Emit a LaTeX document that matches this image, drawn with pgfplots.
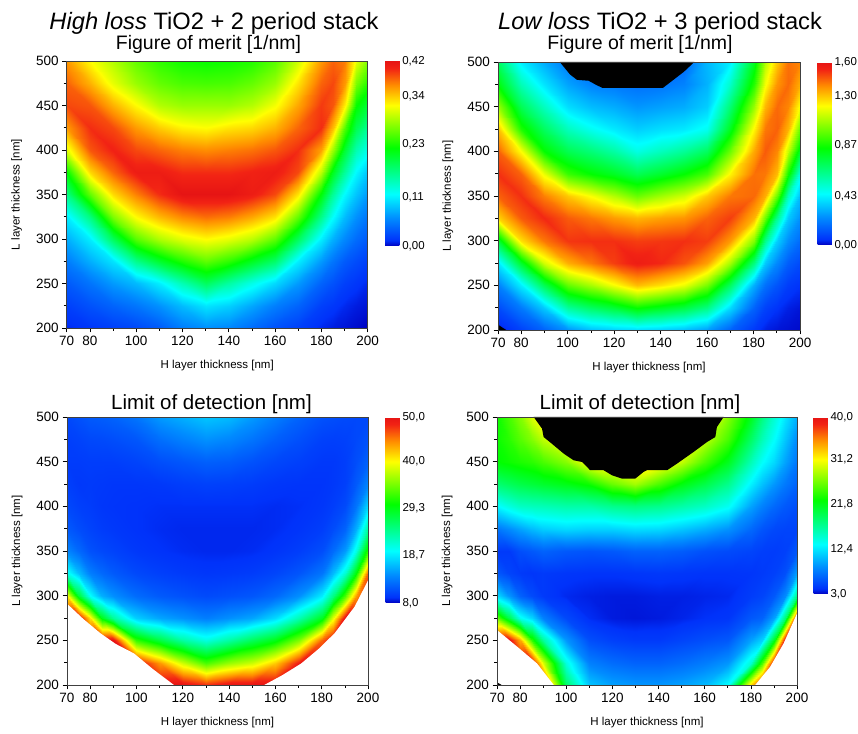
\documentclass[border=0pt]{standalone}
\usepackage{fontspec}
\setmainfont{Liberation Sans}
\usepackage{pgfplots}
\usepackage{pgfplotstable}
\pgfplotsset{compat=1.18}

\pgfplotsset{
  colormap={origin}{rgb255(0mm)=(0,0,190); rgb255(3mm)=(0,50,250); rgb255(15mm)=(0,140,255); rgb255(28mm)=(0,255,255); rgb255(53mm)=(0,255,0); rgb255(76mm)=(255,255,0); rgb255(87mm)=(255,140,0); rgb255(96mm)=(242,35,20); rgb255(100mm)=(230,20,20)},
  hm/.style={
    scale only axis, width=301pt, height=267pt,
    xmin=70, xmax=200, ymin=200, ymax=500,
    xtick={70,80,100,120,140,160,180,200},
    minor xtick={90,110,130,150,170,190},
    ytick={200,250,300,350,400,450,500},
    minor ytick={225,275,325,375,425,475},
    tick align=outside, tick pos=left,
    major tick length=4.5pt, minor tick length=3pt,
    tick style={black, line width=0.7pt},
    axis line style={black!75, line width=0.6pt},
    axis on top,
    ticklabel style={font=\fontsize{13.5}{14}\selectfont},
    /pgf/number format/assume math mode=true,
    xlabel={H layer thickness [nm]}, ylabel={L layer thickness [nm]},
    label style={font=\fontsize{11.5}{12}\selectfont},
    xlabel style={at={(axis description cs:0.5,-0.14)}, anchor=center},
    ylabel style={at={(axis description cs:-0.166,0.5)}, anchor=center},
    colormap name=origin,
    colorbar,
    colorbar style={at={(parent axis.north east)}, anchor=north west, xshift=9pt,
      scale only axis, width=15pt, axis line style={draw=none},
      major tick length=0pt, tick style={draw=none},
      yticklabel style={font=\fontsize{11.5}{12}\selectfont, xshift=-1.5pt},
      /pgf/number format/assume math mode=true},
  },
  hmplot/.style={surf, shader=interp, mesh/cols=#1, mesh/rows=13, point meta=explicit},
}

\begin{document}
% ===== Figure of merit, high loss: left half (H ascending) and right half (H descending)
\pgfplotstableread[row sep=\\]{
H L c\\
70 200 0.01\\ 80 200 0.015\\ 90 200 0.02\\ 100 200 0.025\\ 110 200 0.035\\ 120 200 0.055\\ 130 200 0.065\\
70 225 0.02\\ 80 225 0.03\\ 90 225 0.04\\ 100 225 0.05\\ 110 225 0.065\\ 120 225 0.085\\ 130 225 0.105\\
70 250 0.035\\ 80 250 0.05\\ 90 250 0.07\\ 100 250 0.085\\ 110 250 0.11\\ 120 250 0.149\\ 130 250 0.185\\
70 275 0.055\\ 80 275 0.08\\ 90 275 0.105\\ 100 275 0.166\\ 110 275 0.204\\ 120 275 0.235\\ 130 275 0.259\\
70 300 0.08\\ 80 300 0.11\\ 90 300 0.186\\ 100 300 0.255\\ 110 300 0.288\\ 120 300 0.308\\ 130 300 0.32\\
70 325 0.11\\ 80 325 0.17\\ 90 325 0.269\\ 100 325 0.32\\ 110 325 0.347\\ 120 325 0.366\\ 130 325 0.376\\
70 350 0.17\\ 80 350 0.26\\ 90 350 0.334\\ 100 350 0.37\\ 110 350 0.40\\ 120 350 0.42\\ 130 350 0.42\\
70 375 0.225\\ 80 375 0.335\\ 90 375 0.38\\ 100 375 0.41\\ 110 375 0.41\\ 120 375 0.40\\ 130 375 0.40\\
70 400 0.31\\ 80 400 0.385\\ 90 400 0.405\\ 100 400 0.39\\ 110 400 0.38\\ 120 400 0.37\\ 130 400 0.365\\
70 425 0.36\\ 80 425 0.40\\ 90 425 0.39\\ 100 425 0.36\\ 110 425 0.34\\ 120 425 0.325\\ 130 425 0.32\\
70 450 0.39\\ 80 450 0.385\\ 90 450 0.35\\ 100 450 0.32\\ 110 450 0.29\\ 120 450 0.28\\ 130 450 0.28\\
70 475 0.38\\ 80 475 0.35\\ 90 475 0.31\\ 100 475 0.28\\ 110 475 0.26\\ 120 475 0.25\\ 130 475 0.248\\
70 500 0.36\\ 80 500 0.32\\ 90 500 0.29\\ 100 500 0.26\\ 110 500 0.24\\ 120 500 0.228\\ 130 500 0.225\\
}\fomAL
\pgfplotstableread[row sep=\\]{
H L c\\
200 200 0\\ 195 200 0.003\\ 190 200 0.005\\ 185 200 0.007\\ 180 200 0.01\\ 170 200 0.02\\ 160 200 0.03\\ 150 200 0.045\\ 140 200 0.06\\ 130 200 0.065\\
200 225 0.005\\ 195 225 0.007\\ 190 225 0.01\\ 185 225 0.015\\ 180 225 0.02\\ 170 225 0.04\\ 160 225 0.055\\ 150 225 0.075\\ 140 225 0.095\\ 130 225 0.105\\
200 250 0.01\\ 195 250 0.015\\ 190 250 0.02\\ 185 250 0.03\\ 180 250 0.04\\ 170 250 0.07\\ 160 250 0.10\\ 150 250 0.127\\ 140 250 0.156\\ 130 250 0.185\\
200 275 0.02\\ 195 275 0.027\\ 190 275 0.035\\ 185 275 0.05\\ 180 275 0.07\\ 170 275 0.11\\ 160 275 0.18\\ 150 275 0.21\\ 140 275 0.24\\ 130 275 0.259\\
200 300 0.035\\ 195 300 0.045\\ 190 300 0.06\\ 185 300 0.08\\ 180 300 0.11\\ 170 300 0.185\\ 160 300 0.258\\ 150 300 0.293\\ 140 300 0.31\\ 130 300 0.32\\
200 325 0.05\\ 195 325 0.065\\ 190 325 0.085\\ 185 325 0.118\\ 180 325 0.166\\ 170 325 0.259\\ 160 325 0.33\\ 150 325 0.354\\ 140 325 0.37\\ 130 325 0.376\\
200 350 0.07\\ 195 350 0.09\\ 190 350 0.115\\ 185 350 0.16\\ 180 350 0.22\\ 170 350 0.33\\ 160 350 0.39\\ 150 350 0.41\\ 140 350 0.42\\ 130 350 0.42\\
200 375 0.09\\ 195 375 0.115\\ 190 375 0.158\\ 185 375 0.21\\ 180 375 0.294\\ 170 375 0.39\\ 160 375 0.41\\ 150 375 0.405\\ 140 375 0.40\\ 130 375 0.40\\
200 400 0.125\\ 195 400 0.15\\ 190 400 0.20\\ 185 400 0.28\\ 180 400 0.357\\ 170 400 0.40\\ 160 400 0.385\\ 150 400 0.375\\ 140 400 0.37\\ 130 400 0.365\\
200 425 0.16\\ 195 425 0.19\\ 190 425 0.251\\ 185 425 0.345\\ 180 425 0.40\\ 170 425 0.38\\ 160 425 0.35\\ 150 425 0.335\\ 140 425 0.33\\ 130 425 0.32\\
200 450 0.20\\ 195 450 0.225\\ 190 450 0.325\\ 185 450 0.385\\ 180 450 0.395\\ 170 450 0.355\\ 160 450 0.315\\ 150 450 0.29\\ 140 450 0.28\\ 130 450 0.28\\
200 475 0.235\\ 195 475 0.27\\ 190 475 0.36\\ 185 475 0.39\\ 180 475 0.38\\ 170 475 0.33\\ 160 475 0.28\\ 150 475 0.26\\ 140 475 0.25\\ 130 475 0.248\\
200 500 0.27\\ 195 500 0.31\\ 190 500 0.37\\ 185 500 0.38\\ 180 500 0.36\\ 170 500 0.30\\ 160 500 0.255\\ 150 500 0.235\\ 140 500 0.228\\ 130 500 0.225\\
}\fomAR

% ===== Figure of merit, low loss
\pgfplotstableread[row sep=\\]{
H L c\\
70 200 0.02\\ 80 200 0.08\\ 90 200 0.15\\ 100 200 0.25\\ 110 200 0.33\\ 120 200 0.36\\ 130 200 0.38\\
70 225 0.10\\ 80 225 0.20\\ 90 225 0.35\\ 100 225 0.60\\ 110 225 0.69\\ 120 225 0.756\\ 130 225 0.85\\
70 250 0.22\\ 80 250 0.42\\ 90 250 0.72\\ 100 250 0.99\\ 110 250 1.09\\ 120 250 1.206\\ 130 250 1.32\\
70 275 0.41\\ 80 275 0.78\\ 90 275 1.15\\ 100 275 1.34\\ 110 275 1.42\\ 120 275 1.50\\ 130 275 1.56\\
70 300 0.76\\ 80 300 1.26\\ 90 300 1.42\\ 100 300 1.51\\ 110 300 1.52\\ 120 300 1.52\\ 130 300 1.50\\
70 325 1.28\\ 80 325 1.46\\ 90 325 1.53\\ 100 325 1.46\\ 110 325 1.42\\ 120 325 1.37\\ 130 325 1.33\\
70 350 1.45\\ 80 350 1.52\\ 90 350 1.41\\ 100 350 1.30\\ 110 350 1.21\\ 120 350 1.107\\ 130 350 1.0\\
70 375 1.52\\ 80 375 1.45\\ 90 375 1.19\\ 100 375 0.93\\ 110 375 0.85\\ 120 375 0.795\\ 130 375 0.72\\
70 400 1.45\\ 80 400 1.21\\ 90 400 0.85\\ 100 400 0.72\\ 110 400 0.66\\ 120 400 0.59\\ 130 400 0.49\\
70 425 1.31\\ 80 425 0.89\\ 90 425 0.70\\ 100 425 0.55\\ 110 425 0.47\\ 120 425 0.41\\ 130 425 0.36\\
70 450 1.07\\ 80 450 0.72\\ 90 450 0.55\\ 100 450 0.39\\ 110 450 0.33\\ 120 450 0.30\\ 130 450 0.26\\
70 475 0.83\\ 80 475 0.56\\ 90 475 0.40\\ 100 475 0.28\\ 110 475 0.22\\ 120 475 0.20\\ 130 475 0.18\\
70 500 0.70\\ 80 500 0.42\\ 90 500 0.30\\ 100 500 0.20\\ 110 500 0.15\\ 120 500 0.15\\ 130 500 0.13\\
}\fomBL
\pgfplotstableread[row sep=\\]{
H L c\\
200 200 0.01\\ 195 200 0.015\\ 190 200 0.02\\ 185 200 0.03\\ 180 200 0.06\\ 170 200 0.15\\ 160 200 0.27\\ 150 200 0.33\\ 140 200 0.36\\ 130 200 0.38\\
200 225 0.02\\ 195 225 0.03\\ 190 225 0.05\\ 185 225 0.08\\ 180 225 0.15\\ 170 225 0.38\\ 160 225 0.64\\ 150 225 0.74\\ 140 225 0.795\\ 130 225 0.85\\
200 250 0.05\\ 195 250 0.07\\ 190 250 0.12\\ 185 250 0.18\\ 180 250 0.30\\ 170 250 0.70\\ 160 250 1.02\\ 150 250 1.19\\ 140 250 1.263\\ 130 250 1.32\\
200 275 0.10\\ 195 275 0.14\\ 190 275 0.23\\ 185 275 0.35\\ 180 275 0.65\\ 170 275 1.085\\ 160 275 1.36\\ 150 275 1.47\\ 140 275 1.53\\ 130 275 1.56\\
200 300 0.17\\ 195 300 0.24\\ 190 300 0.36\\ 185 300 0.63\\ 180 300 1.03\\ 170 300 1.37\\ 160 300 1.50\\ 150 300 1.52\\ 140 300 1.51\\ 130 300 1.50\\
200 325 0.25\\ 195 325 0.35\\ 190 325 0.62\\ 185 325 1.0\\ 180 325 1.33\\ 170 325 1.50\\ 160 325 1.45\\ 150 325 1.38\\ 140 325 1.36\\ 130 325 1.33\\
200 350 0.33\\ 195 350 0.55\\ 190 350 0.99\\ 185 350 1.34\\ 180 350 1.44\\ 170 350 1.42\\ 160 350 1.30\\ 150 350 1.15\\ 140 350 1.08\\ 130 350 1.0\\
200 375 0.49\\ 195 375 0.87\\ 190 375 1.32\\ 185 375 1.42\\ 180 375 1.43\\ 170 375 1.23\\ 160 375 0.95\\ 150 375 0.85\\ 140 375 0.78\\ 130 375 0.72\\
200 400 0.79\\ 195 400 1.13\\ 190 400 1.40\\ 185 400 1.46\\ 180 400 1.35\\ 170 400 1.0\\ 160 400 0.70\\ 150 400 0.61\\ 140 400 0.55\\ 130 400 0.49\\
200 425 1.0\\ 195 425 1.33\\ 190 425 1.45\\ 185 425 1.42\\ 180 425 1.23\\ 170 425 0.80\\ 160 425 0.47\\ 150 425 0.41\\ 140 425 0.39\\ 130 425 0.36\\
200 450 1.2\\ 195 450 1.40\\ 190 450 1.44\\ 185 450 1.33\\ 180 450 1.07\\ 170 450 0.67\\ 160 450 0.36\\ 150 450 0.30\\ 140 450 0.28\\ 130 450 0.26\\
200 475 1.34\\ 195 475 1.44\\ 190 475 1.38\\ 185 475 1.2\\ 180 475 0.90\\ 170 475 0.53\\ 160 475 0.31\\ 150 475 0.22\\ 140 475 0.19\\ 130 475 0.18\\
200 500 1.40\\ 195 500 1.43\\ 190 500 1.30\\ 185 500 1.1\\ 180 500 0.80\\ 170 500 0.42\\ 160 500 0.32\\ 150 500 0.16\\ 140 500 0.14\\ 130 500 0.13\\
}\fomBR

% ===== Limit of detection, high loss
\pgfplotstableread[row sep=\\]{
H L c\\
70 200 60\\ 75 200 60\\ 80 200 60\\ 85 200 60\\ 90 200 60\\ 100 200 60\\ 110 200 60\\ 120 200 52\\ 130 200 48\\
70 225 60\\ 75 225 60\\ 80 225 60\\ 85 225 60\\ 90 225 60\\ 100 225 60\\ 110 225 44\\ 120 225 38\\ 130 225 33\\
70 250 60\\ 75 250 60\\ 80 250 60\\ 85 250 60\\ 90 250 50\\ 100 250 32\\ 110 250 27.5\\ 120 250 23.5\\ 130 250 21\\
70 275 60\\ 75 275 60\\ 80 275 41\\ 85 275 29.3\\ 90 275 24\\ 100 275 17.5\\ 110 275 15.5\\ 120 275 14.5\\ 130 275 13.5\\
70 300 40.5\\ 75 300 28\\ 80 300 20\\ 85 300 16\\ 90 300 14.5\\ 100 300 12.5\\ 110 300 11.5\\ 120 300 11\\ 130 300 10.6\\
70 325 20.5\\ 75 325 16.5\\ 80 325 13.5\\ 85 325 12.3\\ 90 325 11.5\\ 100 325 10.5\\ 110 325 10\\ 120 325 9.7\\ 130 325 9.5\\
70 350 14\\ 75 350 12.3\\ 80 350 11\\ 85 350 10.5\\ 90 350 10.2\\ 100 350 9.6\\ 110 350 9.3\\ 120 350 9.1\\ 130 350 9.0\\
70 375 11.5\\ 75 375 10.7\\ 80 375 10.2\\ 85 375 9.8\\ 90 375 9.6\\ 100 375 9.3\\ 110 375 9.1\\ 120 375 9.0\\ 130 375 9.0\\
70 400 10.5\\ 75 400 10\\ 80 400 9.8\\ 85 400 9.5\\ 90 400 9.4\\ 100 400 9.3\\ 110 400 9.2\\ 120 400 9.2\\ 130 400 9.2\\
70 425 10\\ 75 425 9.6\\ 80 425 9.7\\ 85 425 9.6\\ 90 425 9.5\\ 100 425 9.5\\ 110 425 9.6\\ 120 425 9.9\\ 130 425 10.1\\
70 450 9.8\\ 75 450 9.8\\ 80 450 9.9\\ 85 450 9.9\\ 90 450 9.9\\ 100 450 10.2\\ 110 450 10.8\\ 120 450 11.3\\ 130 450 11.8\\
70 475 10\\ 75 475 10.2\\ 80 475 10.5\\ 85 475 10.6\\ 90 475 10.8\\ 100 475 11.3\\ 110 475 12.7\\ 120 475 13.7\\ 130 475 14.6\\
70 500 10.5\\ 75 500 11\\ 80 500 11.5\\ 85 500 11.7\\ 90 500 12\\ 100 500 13\\ 110 500 15\\ 120 500 16\\ 130 500 17\\
}\lodAL
\pgfplotstableread[row sep=\\]{
H L c\\
200 200 60\\ 195 200 60\\ 190 200 60\\ 185 200 60\\ 180 200 60\\ 170 200 60\\ 160 200 60\\ 150 200 55\\ 140 200 50\\ 130 200 48\\
200 225 60\\ 195 225 60\\ 190 225 60\\ 185 225 60\\ 180 225 60\\ 170 225 49\\ 160 225 42\\ 150 225 38\\ 140 225 36\\ 130 225 33\\
200 250 60\\ 195 250 60\\ 190 250 60\\ 185 250 60\\ 180 250 46\\ 170 250 35\\ 160 250 29.3\\ 150 250 26.5\\ 140 250 23.5\\ 130 250 21\\
200 275 60\\ 195 275 60\\ 190 275 50\\ 185 275 39\\ 180 275 29\\ 170 275 23\\ 160 275 18\\ 150 275 15.5\\ 140 275 14.5\\ 130 275 13.5\\
200 300 60\\ 195 300 44\\ 190 300 33\\ 185 300 25\\ 180 300 19\\ 170 300 14.5\\ 160 300 12.3\\ 150 300 11.3\\ 140 300 10.9\\ 130 300 10.6\\
200 325 46\\ 195 325 30\\ 190 325 21.5\\ 185 325 16.5\\ 180 325 13\\ 170 325 11.2\\ 160 325 10.3\\ 150 325 9.8\\ 140 325 9.6\\ 130 325 9.5\\
200 350 32\\ 195 350 21\\ 190 350 15\\ 185 350 12.5\\ 180 350 10.8\\ 170 350 9.9\\ 160 350 9.4\\ 150 350 9.1\\ 140 350 9.0\\ 130 350 9.0\\
200 375 24\\ 195 375 16\\ 190 375 12\\ 185 375 10.7\\ 180 375 9.9\\ 170 375 9.4\\ 160 375 9.1\\ 150 375 9.0\\ 140 375 9.0\\ 130 375 9.0\\
200 400 18\\ 195 400 13\\ 190 400 10.6\\ 185 400 9.9\\ 180 400 9.5\\ 170 400 9.2\\ 160 400 9.1\\ 150 400 9.2\\ 140 400 9.2\\ 130 400 9.2\\
200 425 14\\ 195 425 11.5\\ 190 425 10\\ 185 425 9.6\\ 180 425 9.4\\ 170 425 9.4\\ 160 425 9.5\\ 150 425 9.8\\ 140 425 10\\ 130 425 10.1\\
200 450 12\\ 195 450 10.8\\ 190 450 9.9\\ 185 450 9.6\\ 180 450 9.6\\ 170 450 10\\ 160 450 10.4\\ 150 450 11\\ 140 450 11.6\\ 130 450 11.8\\
200 475 11\\ 195 475 10.5\\ 190 475 10.1\\ 185 475 10\\ 180 475 10.1\\ 170 475 10.9\\ 160 475 11.8\\ 150 475 13\\ 140 475 14\\ 130 475 14.6\\
200 500 10.5\\ 195 500 10.5\\ 190 500 10.6\\ 185 500 10.8\\ 180 500 11\\ 170 500 12\\ 160 500 13.5\\ 150 500 15\\ 140 500 16.5\\ 130 500 17\\
}\lodAR

% ===== Limit of detection, low loss
\pgfplotstableread[row sep=\\]{
H L c\\
70 200 50\\ 75 200 50\\ 80 200 50\\ 85 200 50\\ 90 200 50\\ 100 200 19\\ 110 200 11\\ 120 200 9.5\\ 130 200 9\\
70 225 50\\ 75 225 50\\ 80 225 50\\ 85 225 50\\ 90 225 30\\ 100 225 14.5\\ 110 225 8\\ 120 225 7\\ 130 225 6.5\\
70 250 50\\ 75 250 50\\ 80 250 34\\ 85 250 24\\ 90 250 17\\ 100 250 9\\ 110 250 5.5\\ 120 250 4.8\\ 130 250 4.5\\
70 275 26\\ 75 275 20\\ 80 275 14\\ 85 275 11.7\\ 90 275 8\\ 100 275 5.2\\ 110 275 4\\ 120 275 3.6\\ 130 275 3.5\\
70 300 12\\ 75 300 9\\ 80 300 6.5\\ 85 300 5.3\\ 90 300 4.5\\ 100 300 3.9\\ 110 300 3.7\\ 120 300 3.6\\ 130 300 3.6\\
70 325 6\\ 75 325 5\\ 80 325 4.5\\ 85 325 4.3\\ 90 325 4.5\\ 100 325 4.3\\ 110 325 4.2\\ 120 325 4.2\\ 130 325 4.3\\
70 350 4.5\\ 75 350 4.5\\ 80 350 5.5\\ 85 350 6\\ 90 350 6.5\\ 100 350 6\\ 110 350 5.8\\ 120 350 6\\ 130 350 6.5\\
70 375 7.5\\ 75 375 8.5\\ 80 375 9.5\\ 85 375 10.5\\ 90 375 11.3\\ 100 375 11.8\\ 110 375 11.5\\ 120 375 11.5\\ 130 375 12\\
70 400 13.2\\ 75 400 14.5\\ 80 400 15.5\\ 85 400 15.8\\ 90 400 16\\ 100 400 16.5\\ 110 400 16.5\\ 120 400 17.5\\ 130 400 18\\
70 425 18.5\\ 75 425 19.3\\ 80 425 20\\ 85 425 20.5\\ 90 425 21\\ 100 425 21.8\\ 110 425 23\\ 120 425 26\\ 130 425 28\\
70 450 22.5\\ 75 450 23\\ 80 450 23.5\\ 85 450 24\\ 90 450 25\\ 100 450 27\\ 110 450 31\\ 120 450 32\\ 130 450 33\\
70 475 23\\ 75 475 24\\ 80 475 25.5\\ 85 475 27\\ 90 475 29\\ 100 475 32\\ 110 475 35\\ 120 475 35\\ 130 475 35\\
70 500 23\\ 75 500 25\\ 80 500 27\\ 85 500 30\\ 90 500 32\\ 100 500 35\\ 110 500 35\\ 120 500 35\\ 130 500 35\\
}\lodBL
\pgfplotstableread[row sep=\\]{
H L c\\
200 200 50\\ 195 200 50\\ 190 200 50\\ 185 200 50\\ 180 200 33\\ 170 200 13.5\\ 160 200 10.5\\ 150 200 9.5\\ 140 200 9\\ 130 200 9\\
200 225 50\\ 195 225 50\\ 190 225 45\\ 185 225 25\\ 180 225 15\\ 170 225 9\\ 160 225 7.8\\ 150 225 7\\ 140 225 6.5\\ 130 225 6.5\\
200 250 50\\ 195 250 50\\ 190 250 21.5\\ 185 250 11.5\\ 180 250 9.5\\ 170 250 6\\ 160 250 5.5\\ 150 250 5\\ 140 250 4.5\\ 130 250 4.5\\
200 275 50\\ 195 275 18.5\\ 190 275 9.5\\ 185 275 6.5\\ 180 275 6\\ 170 275 4.3\\ 160 275 4.1\\ 150 275 3.8\\ 140 275 3.6\\ 130 275 3.5\\
200 300 18\\ 195 300 8.5\\ 190 300 6\\ 185 300 5\\ 180 300 4.6\\ 170 300 3.9\\ 160 300 3.8\\ 150 300 3.7\\ 140 300 3.7\\ 130 300 3.6\\
200 325 9.5\\ 195 325 5.5\\ 190 325 4.8\\ 185 325 4.5\\ 180 325 4.3\\ 170 325 4.2\\ 160 325 4.2\\ 150 325 4.3\\ 140 325 4.4\\ 130 325 4.3\\
200 350 6\\ 195 350 4.8\\ 190 350 4.6\\ 185 350 4.7\\ 180 350 5\\ 170 350 5.3\\ 160 350 5.6\\ 150 350 6.2\\ 140 350 6.5\\ 130 350 6.5\\
200 375 5\\ 195 375 5\\ 190 375 5.2\\ 185 375 5.8\\ 180 375 6.8\\ 170 375 8.8\\ 160 375 10\\ 150 375 11\\ 140 375 11.8\\ 130 375 12\\
200 400 5.5\\ 195 400 6\\ 190 400 6.8\\ 185 400 8\\ 180 400 9.5\\ 170 400 13.8\\ 160 400 15.5\\ 150 400 16.5\\ 140 400 17.5\\ 130 400 18\\
200 425 6.5\\ 195 425 7.6\\ 190 425 9\\ 185 425 10.8\\ 180 425 12.8\\ 170 425 17.5\\ 160 425 20\\ 150 425 22\\ 140 425 25\\ 130 425 28\\
200 450 7.5\\ 195 450 9.5\\ 190 450 11.8\\ 185 450 13.5\\ 180 450 16\\ 170 450 21.5\\ 160 450 25\\ 150 450 29\\ 140 450 32\\ 130 450 33\\
200 475 8.5\\ 195 475 11\\ 190 475 13.5\\ 185 475 16\\ 180 475 19\\ 170 475 25\\ 160 475 29\\ 150 475 33\\ 140 475 35\\ 130 475 35\\
200 500 10\\ 195 500 12.4\\ 190 500 15\\ 185 500 18\\ 180 500 21.5\\ 170 500 27\\ 160 500 33\\ 150 500 35\\ 140 500 35\\ 130 500 35\\
}\lodBR

\begin{tikzpicture}
\useasboundingbox (0,0) rectangle (858pt,733pt);

% ---- top left
\begin{axis}[hm, at={(66.7pt,672pt)}, anchor=north west, width=301pt, height=267pt,
  point meta min=0, point meta max=0.42,
  colorbar style={height=185pt, ytick={0,0.11,0.23,0.34,0.42},
    yticklabels={0{,}00,0{,}11,0{,}23,0{,}34,0{,}42}}]
\addplot[hmplot=7] table[x=H, y=L, meta=c] {\fomAL};
\addplot[hmplot=10] table[x=H, y=L, meta=c] {\fomAR};
\end{axis}

% ---- top right
\begin{axis}[hm, at={(498pt,671pt)}, anchor=north west, width=302pt, height=268pt,
  point meta min=0, point meta max=1.6,
  colorbar style={height=183pt, ytick={0,0.43,0.87,1.30,1.60},
    yticklabels={0{,}00,0{,}43,0{,}87,1{,}30,1{,}60}}]
\addplot[hmplot=7] table[x=H, y=L, meta=c] {\fomBL};
\addplot[hmplot=10] table[x=H, y=L, meta=c] {\fomBR};
\addplot[fill=black, draw=none, forget plot] coordinates {(96.6,500) (101,486) (104,480) (109,479) (112.5,474) (115,471) (141,471) (145,479) (150,489) (154.5,500)};
\addplot[fill=black, draw=none, forget plot] coordinates {(70,200) (73.5,200) (70,206)};
\end{axis}

% ---- bottom left
\begin{axis}[hm, at={(67pt,316pt)}, anchor=north west, width=301pt, height=268pt,
  point meta min=8, point meta max=50,
  colorbar style={height=186pt, ytick={8,18.7,29.3,40,50},
    yticklabels={8{,}0,18{,}7,29{,}3,40{,}0,50{,}0}}]
\addplot[hmplot=9] table[x=H, y=L, meta=c] {\lodAL};
\addplot[hmplot=10] table[x=H, y=L, meta=c] {\lodAR};
\addplot[fill=white, draw=none, forget plot] coordinates {(70,200) (70,291) (77,274) (84.4,258) (91,246) (98.9,235.4) (107,218) (116.2,200)};
\addplot[fill=white, draw=none, forget plot] coordinates {(155.2,200) (163,211) (171.1,224) (178.5,240) (185.6,258) (194.2,287.6) (200,317) (200,200)};
\end{axis}

% ---- bottom right
\begin{axis}[hm, at={(497pt,316pt)}, anchor=north west, width=300pt, height=268pt,
  point meta min=3, point meta max=40,
  colorbar style={height=177pt, xshift=-1pt, ytick={3,12.4,21.8,31.2,40},
    yticklabels={3{,}0,12{,}4,21{,}8,31{,}2,40{,}0}}]
\addplot[hmplot=9] table[x=H, y=L, meta=c] {\lodBL};
\addplot[hmplot=10] table[x=H, y=L, meta=c] {\lodBR};
\addplot[fill=white, draw=none, forget plot] coordinates {(70,200) (70,261.5) (78.7,243) (87.3,224.2) (94.6,200)};
\addplot[fill=white, draw=none, forget plot] coordinates {(181.9,200) (188.4,220.5) (194.2,246.6) (200,280) (200,200)};
\addplot[fill=black, draw=none, forget plot] coordinates {(85.9,500) (89.5,487) (90.2,477.6) (94.6,468.3) (98.9,459) (103.2,451.5) (106.8,449.7) (110.4,440.4) (116.2,440.4) (119.8,434.8) (124.2,431) (129.9,431) (133.5,438.5) (135,440.4) (143.7,440.4) (148,447.8) (155.2,460.9) (161,472) (164.6,477.6) (165.3,488.8) (168.2,500)};
\addplot[fill=black, draw=none, forget plot] coordinates {(70,200) (72,200) (70,203)};
\end{axis}

% ---- titles
\node[anchor=base, font=\fontsize{23.7}{26}\selectfont] at (214pt,703pt) {\textit{High loss} TiO2 + 2 period stack};
\node[anchor=base, font=\fontsize{23.7}{26}\selectfont] at (660pt,703pt) {\textit{Low loss} TiO2 + 3 period stack};
\node[anchor=base, font=\fontsize{19.5}{22}\selectfont] at (208.5pt,683.5pt) {Figure of merit [1/nm]};
\node[anchor=base, font=\fontsize{19.5}{22}\selectfont] at (640pt,683pt) {Figure of merit [1/nm]};
\node[anchor=base, font=\fontsize{20.5}{22}\selectfont] at (211.5pt,323.7pt) {Limit of detection [nm]};
\node[anchor=base, font=\fontsize{20.5}{22}\selectfont] at (640pt,323.7pt) {Limit of detection [nm]};
\end{tikzpicture}
\end{document}
